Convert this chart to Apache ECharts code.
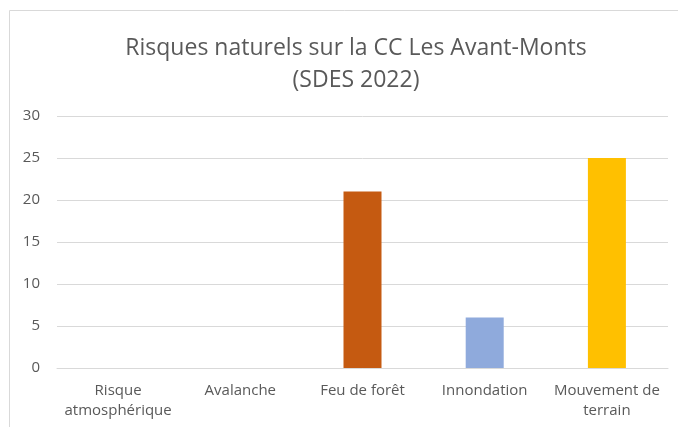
<!DOCTYPE html>
<html>
<head>
<meta charset="utf-8">
<script src="https://cdn.jsdelivr.net/npm/echarts@6/dist/echarts.min.js"></script>
<style>
  html, body { margin: 0; padding: 0; background: #fff; }
  #chart { width: 678px; height: 427px; }
</style>
</head>
<body>
<div id="chart"></div>
<script>
const categories = ['Risque\natmosphérique', 'Avalanche', 'Feu de forêt', 'Innondation', 'Mouvement de\nterrain']
const values = [0, 0, 21, 6, 25]
const barColors = ['#4472C4', '#ED7D31', '#C55A11', '#8FAADC', '#FFC000']

const chart = echarts.init(document.querySelector('#chart'), null, { renderer: 'canvas' })

const option = {
  animation: false,
  textStyle: { fontFamily: 'Open Sans' },
  title: {
    text: 'Risques naturels sur la CC Les Avant-Monts\n(SDES 2022)',
    left: 351,
    top: 27,
    textAlign: 'center',
    textStyle: {
      color: '#595959',
      fontSize: 23,
      fontWeight: 'normal',
      lineHeight: 32,
      fontFamily: 'Open Sans'
    }
  },
  graphic: [{
    type: 'rect',
    shape: { x: 9.5, y: 10.5, width: 700, height: 500 },
    style: { fill: 'none', stroke: '#d9d9d9', lineWidth: 1 },
    silent: true
  }],
  grid: { left: 57, right: 10, top: 116, bottom: 59 },
  xAxis: {
    type: 'category',
    data: categories,
    axisLine: { lineStyle: { color: '#d9d9d9', width: 1 } },
    axisTick: { show: false },
    axisLabel: {
      color: '#595959',
      fontSize: 15,
      lineHeight: 20,
      margin: 13,
      interval: 0
    }
  },
  yAxis: {
    type: 'value',
    min: 0,
    max: 30,
    interval: 5,
    axisLine: { show: false },
    axisTick: { show: false },
    splitLine: { lineStyle: { color: '#d9d9d9', width: 1 } },
    axisLabel: { color: '#595959', fontSize: 15, margin: 17 }
  },
  series: [{
    type: 'bar',
    barWidth: 38,
    data: values.map((v, i) => ({ value: v, itemStyle: { color: barColors[i] } }))
  }]
}
chart.setOption(option)
</script>
</body>
</html>
